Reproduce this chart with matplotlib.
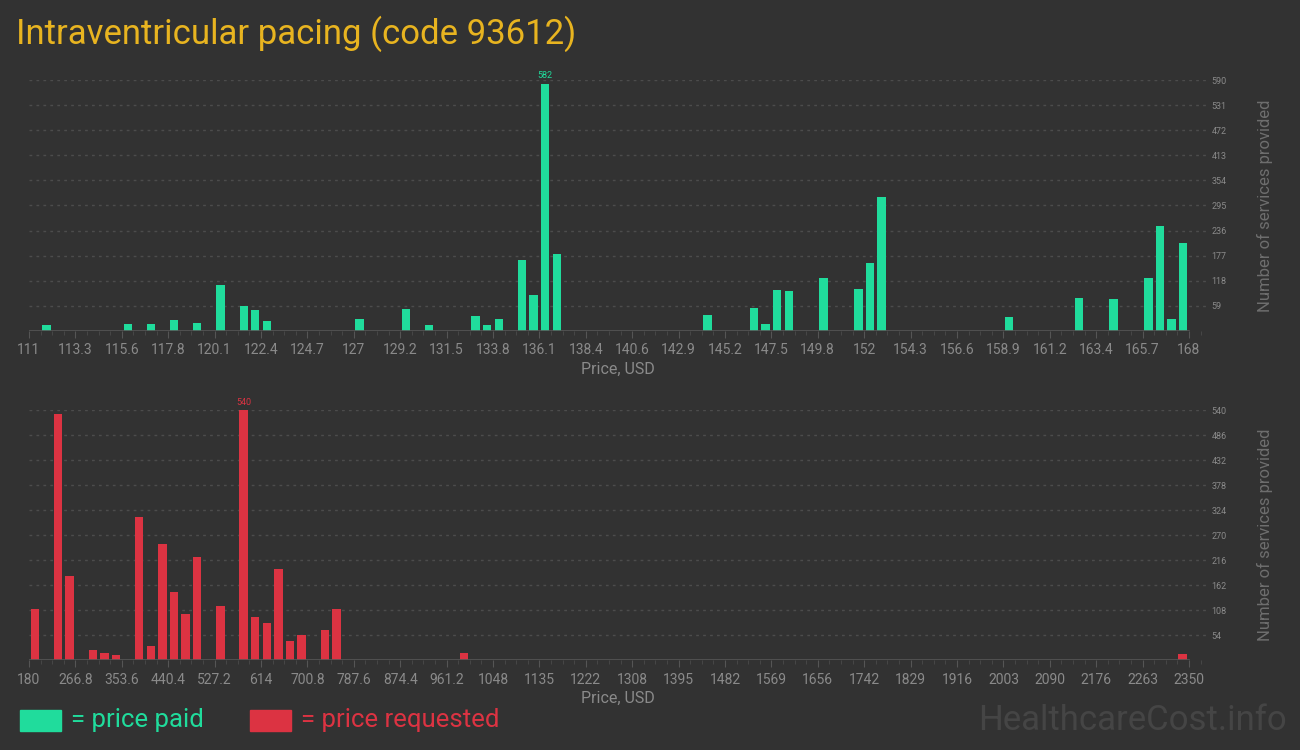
import matplotlib
matplotlib.use('Agg')
from matplotlib import pyplot as plt
from matplotlib.ticker import AutoMinorLocator

# Price paid (top chart): bin centre price, number of services
paid_prices = [111.86, 115.85, 116.99, 118.13, 119.27, 120.41, 121.55, 122.12,
               122.69, 127.25, 129.53, 130.67, 132.95, 133.52, 134.09, 135.23,
               135.80, 136.37, 136.94, 144.35, 146.63, 147.20, 147.77, 148.34,
               150.05, 151.76, 152.33, 152.90, 159.17, 162.59, 164.30, 166.01,
               166.58, 167.15, 167.72]
paid_counts = [13, 16, 16, 25, 18, 108, 58, 49, 23, 28, 51, 13, 35, 13, 28, 167,
               84, 582, 181, 37, 53, 16, 96, 94, 124, 98, 160, 315, 32, 77, 75,
               124, 247, 28, 207]

# Price requested (bottom chart)
req_prices = [190.85, 234.25, 255.95, 299.35, 321.05, 342.75, 386.15, 407.85,
              429.55, 451.25, 472.95, 494.65, 538.05, 581.45, 603.15, 624.85,
              646.55, 668.25, 689.95, 733.35, 755.05, 993.75, 2338.15]
req_counts = [110, 532, 182, 22, 15, 11, 309, 30, 251, 147, 99, 223, 117, 540,
              93, 80, 197, 41, 54, 65, 110, 15, 13]

# Axis ticks
paid_xticks = [111, 113.28, 115.56, 117.84, 120.12, 122.4, 124.68, 126.96, 129.24,
               131.52, 133.8, 136.08, 138.36, 140.64, 142.92, 145.2, 147.48,
               149.76, 152.04, 154.32, 156.6, 158.88, 161.16, 163.44, 165.72, 168]
paid_xlabels = ['111', '113.3', '115.6', '117.8', '120.1', '122.4', '124.7', '127',
                '129.2', '131.5', '133.8', '136.1', '138.4', '140.6', '142.9',
                '145.2', '147.5', '149.8', '152', '154.3', '156.6', '158.9',
                '161.2', '163.4', '165.7', '168']
paid_yticks = [59, 118, 177, 236, 295, 354, 413, 472, 531, 590]

req_xticks = [180, 266.8, 353.6, 440.4, 527.2, 614, 700.8, 787.6, 874.4, 961.2,
              1048, 1134.8, 1221.6, 1308.4, 1395.2, 1482, 1568.8, 1655.6, 1742.4,
              1829.2, 1916, 2002.8, 2089.6, 2176.4, 2263.2, 2350]
req_xlabels = ['180', '266.8', '353.6', '440.4', '527.2', '614', '700.8', '787.6',
               '874.4', '961.2', '1048', '1135', '1222', '1308', '1395', '1482',
               '1569', '1656', '1742', '1829', '1916', '2003', '2090', '2176',
               '2263', '2350']
req_yticks = [54, 108, 162, 216, 270, 324, 378, 432, 486, 540]

# Colours
bg = '#323232'
green = '#20dc9c'
red = '#dc3342'
gold = '#e8b420'
grey = '#8a8a8a'
narrow = ['Roboto', 'DejaVu Sans']

fig = plt.figure(figsize=(13, 7.5), dpi=100, facecolor=bg)


def draw_panel(rect, prices, counts, color, xticks, xlabels, yticks, bin_w, xmax):
    ax = fig.add_axes(rect)
    ax.set_facecolor(bg)
    ax.bar(prices, counts, width=bin_w * 0.72, color=color, zorder=3)
    ax.set_xlim(xticks[0], xmax)
    ax.set_ylim(0, yticks[-1])
    for s in ax.spines.values():
        s.set_visible(False)
    # baseline only spans the tick range
    ax.plot([xticks[0], xticks[-1]], [0, 0], color='#555555', lw=1.2, zorder=4)
    ax.set_xticks(xticks)
    ax.set_xticklabels(xlabels, fontfamily=narrow, fontsize=10, color=grey)
    ax.xaxis.set_minor_locator(AutoMinorLocator(4))
    ax.tick_params(axis='x', which='major', length=5, color='#555555', pad=4)
    ax.tick_params(axis='x', which='minor', length=3, color='#4a4a4a')
    ax.yaxis.tick_right()
    ax.set_yticks(yticks)
    ax.set_yticklabels([str(v) for v in yticks], fontfamily=narrow, fontsize=6.5,
                       color=grey)
    ax.tick_params(axis='y', length=0, pad=4)
    ax.grid(axis='y', color='#4c4c4c', linestyle=(0, (2, 3)), lw=1, zorder=0)
    ax.set_xlabel('Price, USD', fontfamily=narrow, fontsize=11.5, color=grey,
                  labelpad=3)
    ax.yaxis.set_label_position('right')
    ax.set_ylabel('Number of services provided', fontfamily=narrow, fontsize=12,
                  color='#6e6e6e', labelpad=22)
    # label the tallest bar
    i = counts.index(max(counts))
    ax.text(prices[i], counts[i] + yticks[-1] * 0.015, str(counts[i]),
            ha='center', va='bottom', fontfamily=narrow, fontsize=6.5, color=color,
            clip_on=False)
    return ax


draw_panel([0.0223, 0.559, 0.9054, 0.334], paid_prices, paid_counts, green,
           paid_xticks, paid_xlabels, paid_yticks, 0.57, 168.84)
draw_panel([0.0223, 0.12, 0.9054, 0.333], req_prices, req_counts, red,
           req_xticks, req_xlabels, req_yticks, 21.7, 2381.8)

# Title
fig.text(0.012, 0.955, 'Intraventricular pacing (code 93612)', fontfamily=narrow,
         fontsize=25, color=gold, va='center', ha='left')

# Legend
fig.patches.append(plt.Rectangle((20 / 1300, 1 - 731 / 750), 41 / 1300, 21 / 750,
                                 transform=fig.transFigure, color=green))
fig.text(71 / 1300, 1 - 720 / 750, '= price paid', fontfamily=narrow, fontsize=18.5,
         color=green, va='center', ha='left')
fig.patches.append(plt.Rectangle((250 / 1300, 1 - 731 / 750), 41 / 1300, 21 / 750,
                                 transform=fig.transFigure, color=red))
fig.text(301 / 1300, 1 - 720 / 750, '= price requested', fontfamily=narrow,
         fontsize=18.5, color=red, va='center', ha='left')

# Watermark
fig.text(0.99, 1 - 720 / 750, 'HealthcareCost.info', fontfamily=narrow, fontsize=25,
         color='#454545', va='center', ha='right')

fig.savefig('out.png', dpi=100, facecolor=bg)
